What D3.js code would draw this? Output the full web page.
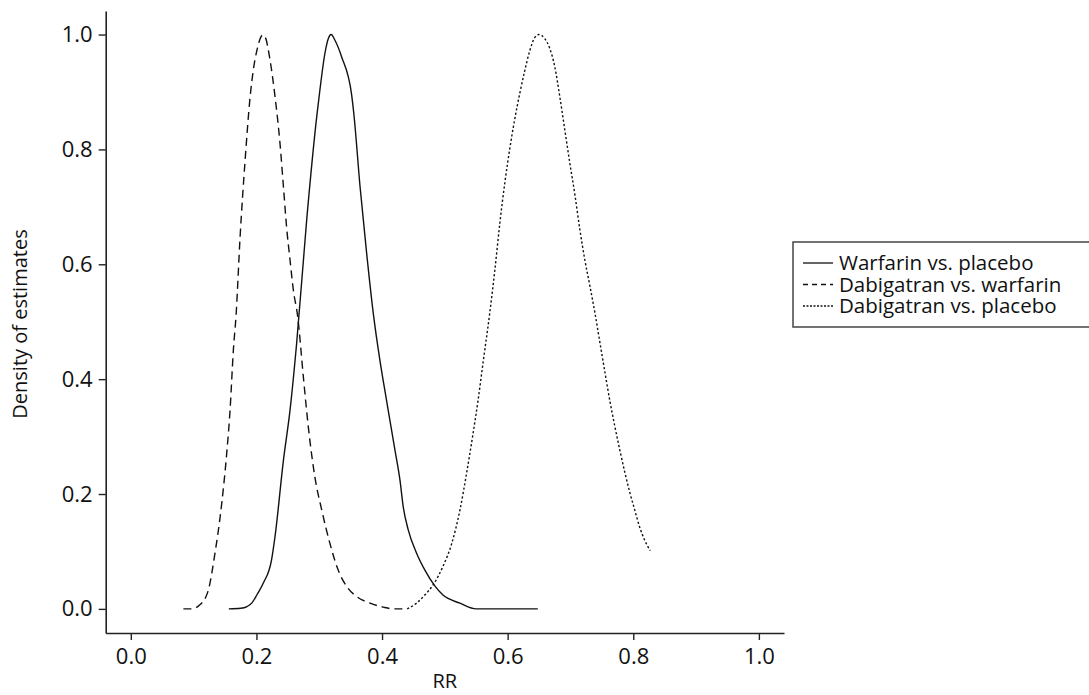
<!DOCTYPE html>
<html>
<head>
<meta charset="utf-8">
<script src="https://cdn.jsdelivr.net/npm/d3@7"></script>
<style>
  html, body { margin: 0; padding: 0; background: #fff; }
  svg { display: block; }
  text { font-family: "Open Sans", "Noto Sans", sans-serif; fill: #111; }
</style>
</head>
<body>
<svg id="chart" width="1089" height="695"></svg>
<script>
// ---- data ----
const xTicks = [0.0, 0.2, 0.4, 0.6, 0.8, 1.0];
const yTicks = [0.0, 0.2, 0.4, 0.6, 0.8, 1.0];
const seriesNames = ["Warfarin vs. placebo", "Dabigatran vs. warfarin", "Dabigatran vs. placebo"];

const warfarinPlaceboRR = [0.156,0.175,0.185,0.1925,0.201,0.211,0.224,0.2296,0.243,0.2535,0.264,0.280,0.296,0.301,0.309,0.3145,0.319,0.325,0.3357,0.3516,0.355,0.365,0.3755,0.386,0.397,0.407,0.4205,0.4285,0.4337,0.4417,0.455,0.468,0.484,0.497,0.524,0.550,0.648];
const warfarinPlaceboDensity = [0,0.001,0.004,0.010,0.025,0.045,0.085,0.126,0.259,0.346,0.462,0.677,0.857,0.903,0.967,0.993,1.0,0.990,0.961,0.895,0.863,0.735,0.619,0.515,0.43,0.364,0.277,0.2245,0.178,0.1375,0.097,0.068,0.040,0.024,0.010,0,0];

const dabiWarfarinRR = [0.0837,0.097,0.110,0.1235,0.134,0.1448,0.1527,0.158,0.1633,0.1675,0.174,0.182,0.190,0.195,0.2015,0.210,0.2137,0.2216,0.2296,0.2375,0.243,0.248,0.2535,0.2588,0.2657,0.2747,0.2826,0.293,0.304,0.317,0.330,0.3437,0.3596,0.381,0.402,0.418,0.440];
const dabiWarfarinDensity = [0,0,0.007,0.033,0.097,0.184,0.271,0.346,0.451,0.51,0.648,0.7815,0.892,0.938,0.976,0.999,0.996,0.956,0.892,0.8106,0.735,0.665,0.6075,0.555,0.509,0.404,0.317,0.230,0.172,0.114,0.068,0.039,0.0214,0.010,0.003,0,0];

const dabiPlaceboRR = [0.440,0.455,0.468,0.4815,0.497,0.511,0.524,0.5346,0.545,0.553,0.561,0.5717,0.5796,0.5876,0.5955,0.6035,0.611,0.619,0.627,0.635,0.6433,0.650,0.659,0.667,0.675,0.683,0.691,0.699,0.7075,0.715,0.723,0.731,0.739,0.7467,0.7547,0.7626,0.7706,0.7785,0.7865,0.7944,0.8024,0.810,0.818,0.827];
const dabiPlaceboDensity = [0,0.010,0.024,0.042,0.074,0.114,0.172,0.236,0.306,0.364,0.43,0.517,0.59,0.672,0.742,0.802,0.851,0.896,0.936,0.971,0.995,1.0,0.993,0.976,0.944,0.892,0.834,0.776,0.718,0.660,0.607,0.562,0.515,0.465,0.413,0.363,0.318,0.277,0.238,0.203,0.172,0.143,0.120,0.1015];

// ---- layout ----
const svg = d3.select("#chart");
const plotLeft = 105.7, plotRight = 784, plotTop = 11, plotBottom = 633;

const x = d3.scaleLinear().domain([-0.04, 1.04]).range([plotLeft, plotRight]);
const y = d3.scaleLinear().domain([-0.042, 1.041]).range([plotBottom, plotTop]);

const axisColor = "#222";

// x axis
const gx = svg.append("g").attr("transform", `translate(0,${plotBottom})`)
  .call(d3.axisBottom(x).tickValues(xTicks).tickFormat(d3.format(".1f")).tickSize(7).tickSizeOuter(0).tickPadding(8));
// y axis
const gy = svg.append("g").attr("transform", `translate(${plotLeft},0)`)
  .call(d3.axisLeft(y).tickValues(yTicks).tickFormat(d3.format(".1f")).tickSize(7).tickSizeOuter(0).tickPadding(6));

[gx, gy].forEach(g => {
  g.select(".domain").attr("stroke", axisColor).attr("stroke-width", 1.6);
  g.selectAll(".tick line").attr("stroke", axisColor).attr("stroke-width", 1.4);
  g.selectAll(".tick text").attr("font-size", 22).attr("fill", "#111")
    .attr("font-family", '"Open Sans", "Noto Sans", sans-serif');
});

// axis titles
svg.append("text").attr("x", (plotLeft + plotRight) / 2).attr("y", 688)
  .attr("text-anchor", "middle").attr("font-size", 20).text("RR");
svg.append("text").attr("transform", `translate(27,${(plotTop + plotBottom) / 2 + 2}) rotate(-90)`)
  .attr("text-anchor", "middle").attr("font-size", 20).text("Density of estimates");

// curves
const line = d3.line().x(d => x(d[0])).y(d => y(d[1])).curve(d3.curveMonotoneX);
const series = [
  { rr: warfarinPlaceboRR, den: warfarinPlaceboDensity, dash: null },
  { rr: dabiWarfarinRR, den: dabiWarfarinDensity, dash: "8,5" },
  { rr: dabiPlaceboRR, den: dabiPlaceboDensity, dash: "2.2,2.2" }
];
series.forEach(s => {
  const pts = s.rr.map((v, i) => [v, s.den[i]]);
  svg.append("path").datum(pts).attr("d", line)
    .attr("fill", "none").attr("stroke", "#111").attr("stroke-width", 1.4)
    .attr("stroke-dasharray", s.dash);
});

// legend
const lg = svg.append("g");
const lgTop = 242, lgBottom = 327, lgLeft = 793, rowH = 21.5, firstRow = 263;
lg.append("rect").attr("x", lgLeft).attr("y", lgTop).attr("width", 320).attr("height", lgBottom - lgTop)
  .attr("fill", "#fff").attr("stroke", "#444").attr("stroke-width", 1.5);
const legendDash = [null, "5,4", "2,1.5"];
seriesNames.forEach((name, i) => {
  const cy = firstRow + i * rowH;
  lg.append("line").attr("x1", 803).attr("x2", 833).attr("y1", cy).attr("y2", cy)
    .attr("stroke", "#111").attr("stroke-width", 1.3).attr("stroke-dasharray", legendDash[i]);
  lg.append("text").attr("x", 839).attr("y", cy).attr("dy", "0.35em")
    .attr("font-size", 20.5).text(name);
});
</script>
</body>
</html>
